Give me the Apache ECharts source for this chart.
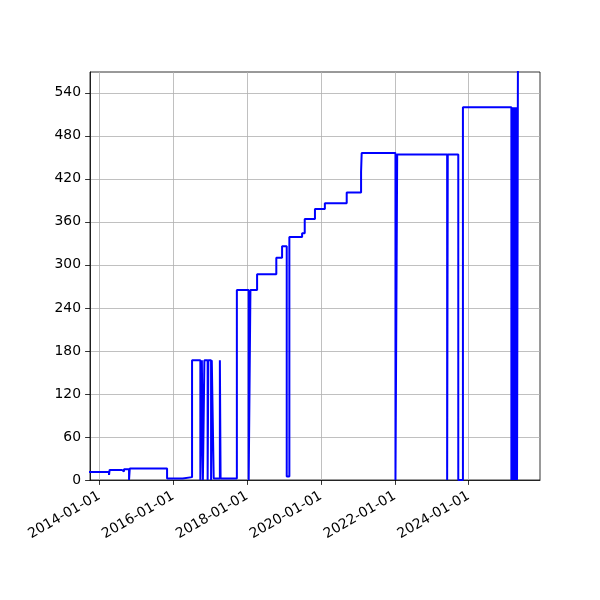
<!DOCTYPE html>
<html>
<head>
<meta charset="utf-8">
<script src="https://cdn.jsdelivr.net/npm/echarts@6/dist/echarts.min.js"></script>
<style>
html,body{margin:0;padding:0;background:#ffffff;}
#chart{width:600px;height:600px;}
</style>
</head>
<body>
<div id="chart"></div>
<script>
// change dates (value holds from this date until the next one)
const dates = [
  '2013-09-01','2014-04-07','2014-04-13','2014-08-13','2014-09-02','2014-10-22','2014-10-29',
  '2015-11-02','2016-04-04','2016-07-06','2016-09-26','2016-10-11','2016-10-21','2016-11-05',
  '2016-12-07','2016-12-14','2017-01-10','2017-01-17','2017-02-05','2017-04-07','2017-04-14',
  '2017-09-22','2018-01-17','2018-02-03','2018-04-10','2018-10-17','2018-12-13','2019-01-28',
  '2019-02-23','2019-06-29','2019-07-25','2019-11-03','2020-02-09','2020-09-12','2021-02-01',
  '2021-02-07','2022-01-07','2022-01-24','2023-06-02','2023-06-08','2023-09-20','2023-11-05',
  '2025-02-26','2025-03-05','2025-03-12','2025-03-19','2025-03-26','2025-04-02','2025-04-09',
  '2025-04-16','2025-04-23','2025-05-02'
];
const values = [
  11, 7, 14, 12, 15, 0, 16,
  2, 4, 167, 0, 167, 0, 167,
  0, 167, 0, 167, 2, 167, 2,
  265, 0, 265, 287, 310, 326, 5,
  339, 344, 364, 378, 386, 401, 430,
  456, 0, 454, 0, 454, 0, 520,
  0, 520, 0, 520, 0, 520, 0,
  520, 0, 600
];
const xTickLabels = ['2014-01-01','2016-01-01','2018-01-01','2020-01-01','2022-01-01','2024-01-01'];
const yTicks = [0, 60, 120, 180, 240, 300, 360, 420, 480, 540];
const xRange = ['2013-10-01', '2025-12-06'];
const yRange = [0, 569];

const toTs = s => Date.parse(s + 'T00:00:00Z');
const seriesData = dates.map((d, i) => [toTs(d), values[i]]);
const fmtDate = v => new Date(v).toISOString().slice(0, 10);

const font = 'DejaVu Sans';
const chart = echarts.init(document.getElementById('chart'), null, {renderer: 'canvas'});
chart.setOption({
  animation: false,
  backgroundColor: '#ffffff',
  grid: {
    left: 90, right: 60, top: 72, bottom: 120,
    containLabel: false,
    outerBoundsMode: 'none',
    show: true,
    borderColor: '#000000',
    borderWidth: 0.8,
    backgroundColor: 'transparent'
  },
  xAxis: {
    type: 'value',
    min: toTs(xRange[0]),
    max: toTs(xRange[1]),
    axisLine: {show: true, onZero: false, lineStyle: {color: '#000000', width: 0.8}},
    axisTick: {show: true, inside: false, length: 4.9, lineStyle: {color: '#000000', width: 0.8},
               customValues: xTickLabels.map(toTs)},
    axisLabel: {
      show: true, rotate: 30, margin: 15, color: '#000000', fontFamily: font, fontSize: 13.9,
      customValues: xTickLabels.map(toTs),
      formatter: v => fmtDate(v)
    },
    splitLine: {show: true, lineStyle: {color: '#b0b0b0', width: 0.8}}
  },
  yAxis: {
    type: 'value',
    min: yRange[0],
    max: yRange[1],
    axisLine: {show: true, onZero: false, lineStyle: {color: '#000000', width: 0.8}},
    axisTick: {show: true, inside: false, length: 4.9, lineStyle: {color: '#000000', width: 0.8},
               customValues: yTicks},
    axisLabel: {
      show: true, margin: 9, color: '#000000', fontFamily: font, fontSize: 13.9,
      customValues: yTicks,
      formatter: v => String(v)
    },
    splitLine: {show: true, lineStyle: {color: '#b0b0b0', width: 0.8}}
  },
  series: [{
    type: 'line',
    data: seriesData,
    step: 'end',
    showSymbol: false,
    symbol: 'none',
    clip: true,
    silent: true,
    lineStyle: {color: '#0000ff', width: 2},
    itemStyle: {color: '#0000ff'}
  }]
});
</script>
</body>
</html>
